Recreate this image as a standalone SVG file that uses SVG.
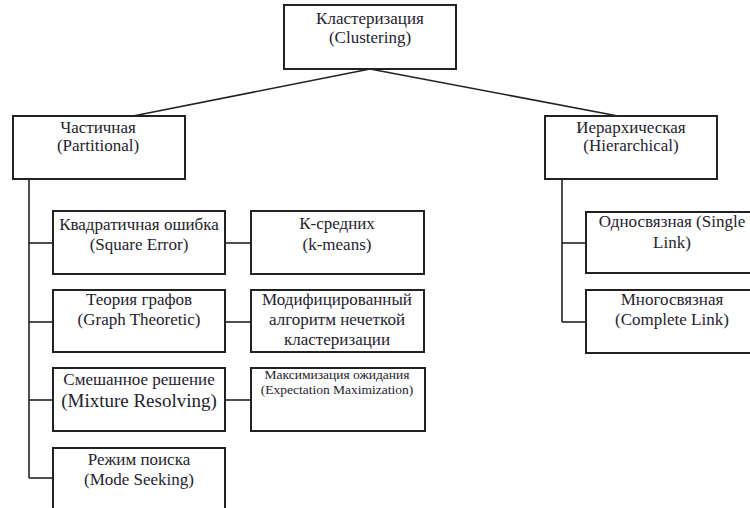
<svg xmlns="http://www.w3.org/2000/svg" width="750" height="508" viewBox="0 0 750 508">
  <style>
    .box { fill: #ffffff; stroke: #222222; stroke-width: 2; }
    .wire { fill: none; stroke: #222222; stroke-width: 1.6; }
    text { font-family: "Liberation Serif", "DejaVu Serif", serif; font-size: 17px; fill: #1f2230; text-anchor: middle; }
    .big { font-size: 19px; }
    .small { font-size: 13.5px; }
  </style>
  <rect width="750" height="508" fill="#ffffff"/>

  <g id="connectors">
    <path class="wire" d="M370 69 L133 116"/>
    <path class="wire" d="M370 69 L618 116"/>
    <path class="wire" d="M29 179 V478"/>
    <path class="wire" d="M29 243 H53"/>
    <path class="wire" d="M29 322 H53"/>
    <path class="wire" d="M29 400 H53"/>
    <path class="wire" d="M29 478 H53"/>
    <path class="wire" d="M225 243 H251"/>
    <path class="wire" d="M225 322 H251"/>
    <path class="wire" d="M225 400 H251"/>
    <path class="wire" d="M562 179 V322"/>
    <path class="wire" d="M562 243 H586"/>
    <path class="wire" d="M562 322 H586"/>
  </g>

  <g id="clustering">
    <rect class="box" x="284" y="5" width="172" height="64"/>
    <text x="370" y="24">Кластеризация</text>
    <text x="370" y="43">(Clustering)</text>
  </g>

  <g id="partitional">
    <rect class="box" x="13" y="116" width="172" height="63"/>
    <text x="98" y="133">Частичная</text>
    <text x="98" y="151">(Partitional)</text>
  </g>

  <g id="hierarchical">
    <rect class="box" x="545" y="116" width="172" height="63"/>
    <text x="631" y="133">Иерархическая</text>
    <text x="631" y="151">(Hierarchical)</text>
  </g>

  <g id="square-error">
    <rect class="box" x="53" y="211" width="172" height="63"/>
    <text x="139" y="230">Квадратичная ошибка</text>
    <text x="139" y="250">(Square Error)</text>
  </g>

  <g id="k-means">
    <rect class="box" x="251" y="211" width="173" height="63"/>
    <text x="337" y="229">К-средних</text>
    <text x="337" y="250">(k-means)</text>
  </g>

  <g id="graph-theoretic">
    <rect class="box" x="53" y="290" width="172" height="62"/>
    <text x="139" y="305">Теория графов</text>
    <text x="139" y="325">(Graph Theoretic)</text>
  </g>

  <g id="fuzzy">
    <rect class="box" x="251" y="290" width="173" height="62"/>
    <text x="337" y="305">Модифицированный</text>
    <text x="337" y="325">алгоритм нечеткой</text>
    <text x="337" y="345">кластеризации</text>
  </g>

  <g id="mixture-resolving">
    <rect class="box" x="53" y="368" width="172" height="63"/>
    <text x="139" y="385">Смешанное решение</text>
    <text class="big" x="139" y="407">(Mixture Resolving)</text>
  </g>

  <g id="expectation-maximization">
    <rect class="box" x="251" y="368" width="174" height="63"/>
    <text class="small" x="337" y="379">Максимизация ожидания</text>
    <text class="small" x="337" y="394">(Expectation Maximization)</text>
  </g>

  <g id="mode-seeking">
    <rect class="box" x="53" y="448" width="172" height="70"/>
    <text x="139" y="465">Режим поиска</text>
    <text x="139" y="485">(Mode Seeking)</text>
  </g>

  <g id="single-link">
    <rect class="box" x="586" y="212" width="172" height="61"/>
    <text x="672" y="227">Односвязная (Single</text>
    <text x="672" y="248">Link)</text>
  </g>

  <g id="complete-link">
    <rect class="box" x="586" y="290" width="172" height="63"/>
    <text x="672" y="305">Многосвязная</text>
    <text x="672" y="325">(Complete Link)</text>
  </g>
</svg>
